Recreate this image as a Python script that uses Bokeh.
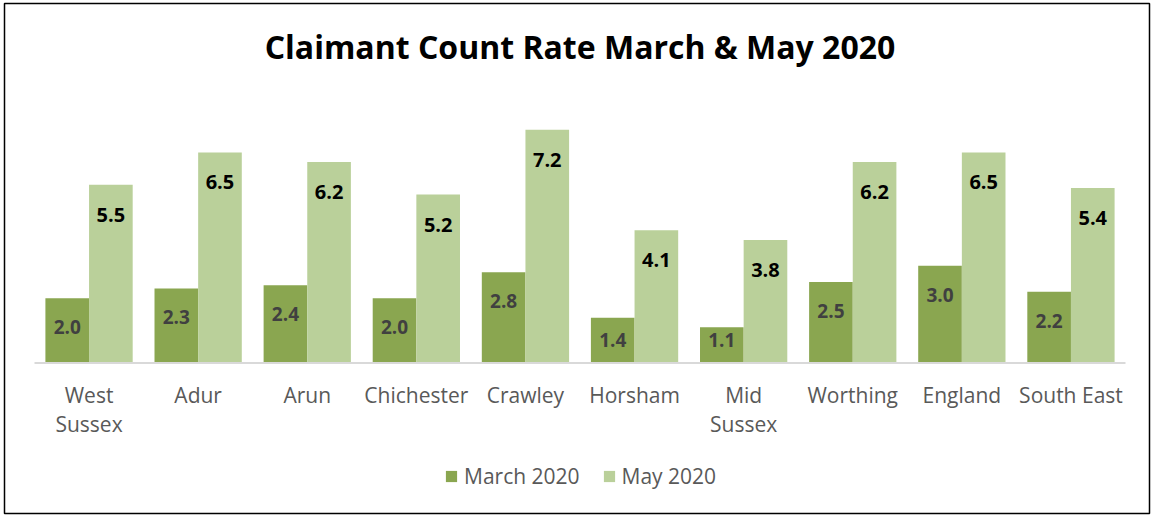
from bokeh.plotting import figure
from bokeh.models import ColumnDataSource, Range1d, Legend, LegendItem, Label
from bokeh.core.properties import value
from bokeh.embed import file_html
from bokeh.resources import INLINE

# ---- data ----
categories = ["West Sussex", "Adur", "Arun", "Chichester", "Crawley",
              "Horsham", "Mid Sussex", "Worthing", "England", "South East"]
tick_labels = ["West\nSussex", "Adur", "Arun", "Chichester", "Crawley",
               "Horsham", "Mid\nSussex", "Worthing", "England", "South East"]
march_2020 = [2.0, 2.3, 2.4, 2.0, 2.8, 1.4, 1.1, 2.5, 3.0, 2.2]
may_2020 = [5.5, 6.5, 6.2, 5.2, 7.2, 4.1, 3.8, 6.2, 6.5, 5.4]
series_names = ["March 2020", "May 2020"]
title_text = "Claimant Count Rate March & May 2020"

# ---- layout (pixels) ----
FONT = "Open Sans"
W, H = 1153, 516
FL, FR, FT, FB = 4, 1149, 3, 513          # chart box (frame) edges
BASE = 362.5                               # baseline of the bars
PL, PR = 34, 1125                          # plot area left / right
PPU = 32.4                                 # pixels per value unit
n = len(categories)
PX = (PR - PL) / n                         # pixels per category

xs = list(range(n))
src = ColumnDataSource(dict(
    x=xs,
    xm=[i - 0.2 for i in xs],
    xy=[i + 0.2 for i in xs],
    march=march_2020,
    may=may_2020,
    march_txt=[f"{v:.1f}" for v in march_2020],
    may_txt=[f"{v:.1f}" for v in may_2020],
    march_y=[max(v - 29 / PPU, 23 / PPU) for v in march_2020],
    may_y=[max(v - 30 / PPU, 23 / PPU) for v in may_2020],
    lab=tick_labels,
    zero=[0] * n,
))

p = figure(width=W, height=H,
           x_range=Range1d(-0.5 - (PL - FL) / PX, n - 0.5 + (FR - PR) / PX),
           y_range=Range1d(-(FB - BASE) / PPU, (BASE - FT) / PPU),
           output_backend="svg", toolbar_location=None,
           x_axis_location=None, y_axis_location=None,
           min_border_left=FL, min_border_right=W - FR,
           min_border_top=FT, min_border_bottom=H - FB)
p.outline_line_color = "#000000"
p.outline_line_width = 1.5
p.xgrid.visible = False
p.ygrid.visible = False
p.background_fill_color = "#ffffff"
p.border_fill_color = "#ffffff"

r1 = p.vbar(x="xm", top="march", width=0.4, source=src,
            fill_color="#8aa650", line_color=None)
r2 = p.vbar(x="xy", top="may", width=0.4, source=src,
            fill_color="#bad09a", line_color=None)

# category axis line and labels
p.line(x=[-0.5, n - 0.5], y=[0, 0], line_color="#d9d9d9", line_width=2)
p.text(x="x", y="zero", text="lab", source=src, y_offset=18,
       text_align="center", text_baseline="top", text_line_height=1.04,
       text_font=value(FONT), text_font_size="21px", text_color="#595959")

# data labels
p.text(x="xm", y="march_y", text="march_txt", source=src,
       text_align="center", text_baseline="middle", text_font=value(FONT),
       text_font_size="19px", text_font_style="bold", text_color="#404040")
p.text(x="xy", y="may_y", text="may_txt", source=src,
       text_align="center", text_baseline="middle", text_font=value(FONT),
       text_font_size="20px", text_font_style="bold", text_color="#000000")

# title
p.add_layout(Label(x=(n - 1) / 2, y=(BASE - 46) / PPU, text=title_text,
                   text_align="center", text_baseline="alphabetic",
                   text_font=FONT, text_font_size="32px",
                   text_font_style="bold", text_color="#000000"))

legend = Legend(items=[LegendItem(label=series_names[0], renderers=[r1]),
                       LegendItem(label=series_names[1], renderers=[r2])],
                orientation="horizontal", location=(440, 23),
                label_text_font=FONT, label_text_font_size="21px",
                label_text_color="#595959", glyph_width=14, glyph_height=14,
                label_standoff=6, spacing=22, border_line_color=None,
                background_fill_alpha=0, padding=0, margin=0)
p.add_layout(legend)

open("out.html", "w").write(file_html(p, INLINE))
